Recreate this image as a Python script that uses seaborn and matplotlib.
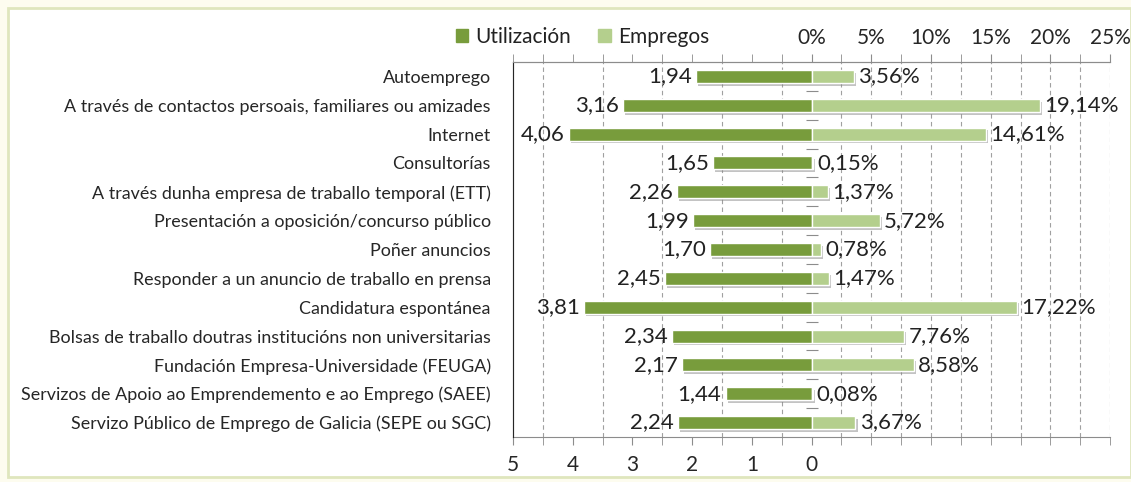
import numpy as np
import matplotlib
matplotlib.use("Agg")
import matplotlib.pyplot as plt
import matplotlib.patheffects as pe
from matplotlib.patches import Patch, Rectangle
import seaborn as sns

# --- Data ---
categorias = [
    "Autoemprego",
    "A través de contactos persoais, familiares ou amizades",
    "Internet",
    "Consultorías",
    "A través dunha empresa de traballo temporal (ETT)",
    "Presentación a oposición/concurso público",
    "Poñer anuncios",
    "Responder a un anuncio de traballo en prensa",
    "Candidatura espontánea",
    "Bolsas de traballo doutras institucións non universitarias",
    "Fundación Empresa-Universidade (FEUGA)",
    "Servizos de Apoio ao Emprendemento e ao Emprego (SAEE)",
    "Servizo Público de Emprego de Galicia (SEPE ou SGC)",
]
utilizacion = [1.94, 3.16, 4.06, 1.65, 2.26, 1.99, 1.70, 2.45, 3.81, 2.34, 2.17, 1.44, 2.24]
empregos = [3.56, 19.14, 14.61, 0.15, 1.37, 5.72, 0.78, 1.47, 17.22, 7.76, 8.58, 0.08, 3.67]

util_ticks = [5, 4, 3, 2, 1, 0]
emp_ticks = [0, 5, 10, 15, 20, 25]

dark = "#789c3c"
light = "#b4cf8d"
grey = "#8c8c8c"

sns.set_style("white")
plt.rcParams["font.family"] = ["Lato", "DejaVu Sans"]
plt.rcParams["text.color"] = "#222222"

fig = plt.figure(figsize=(11.31, 4.82), dpi=100)
fig.patch.set_facecolor("#fdfcef")
fig.patches.append(Rectangle((0.007, 0.01), 0.993, 0.973, transform=fig.transFigure,
                             facecolor="white", edgecolor="#dfe6bd", lw=2, zorder=-10))
pos = [0.4536, 0.0934, 0.528, 0.778]
ax = fig.add_axes(pos)
ax.patch.set_alpha(0)
ax2 = ax.twiny()

shadow = [pe.SimplePatchShadow(offset=(1.5, -2), shadow_rgbFace="#888888", alpha=0.5), pe.Normal()]

# Utilización on the bottom scale (inverted, grows to the left)
sns.barplot(x=utilizacion, y=categorias, orient="h", color=dark, width=0.45,
            saturation=1, ax=ax, zorder=3)
# Empregos on the top scale (percent, grows to the right)
sns.barplot(x=empregos, y=categorias, orient="h", color=light, width=0.45,
            saturation=1, ax=ax2, zorder=3)

for a in (ax, ax2):
    for bar in a.containers[0]:
        bar.set_path_effects(shadow)

ax.set_xlim(5, -5)
ax2.set_xlim(-25, 25)
ax.set_ylim(len(categorias) - 0.5, -0.5)

# value labels with decimal comma
ax.bar_label(ax.containers[0], labels=[f"{v:.2f}".replace(".", ",") for v in utilizacion],
             padding=3, fontsize=16)
ax2.bar_label(ax2.containers[0], labels=[f"{v:.2f}%".replace(".", ",") for v in empregos],
              padding=3, fontsize=16)

# bottom axis
ax.set_xticks(util_ticks)
ax.set_xticklabels([str(t) for t in util_ticks], fontsize=15)
ax.set_xticks(np.arange(-5, 5.01, 0.5), minor=True)
ax.tick_params(axis="x", which="both", direction="out", length=6, color=grey, bottom=True)
ax.tick_params(axis="x", which="major", pad=7)
ax.grid(axis="x", which="minor", color="#a0a0a0", linestyle=(0, (4, 3)), lw=0.8)
ax.set_axisbelow(True)

# top axis
ax2.set_xticks(emp_ticks)
ax2.set_xticklabels([f"{t}%" for t in emp_ticks], fontsize=15)
ax2.set_xticks(np.arange(-25, 25.01, 2.5), minor=True)
ax2.tick_params(axis="x", which="both", direction="out", length=6, color=grey, top=True)
ax2.tick_params(axis="x", which="major", pad=4)

# category labels
ax.set_yticks(range(len(categorias)))
ax.set_yticklabels(categorias, fontsize=12.9)
ax.tick_params(axis="y", length=0, pad=16)
ax.set_ylabel("")
ax.set_xlabel("")
ax2.set_xlabel("")
ax2.set_ylabel("")

# zero line with cross ticks between categories (separate overlay axes)
ax3 = fig.add_axes(pos, frameon=False)
ax3.set_xlim(-1, 1)
ax3.set_ylim(len(categorias) - 0.5, -0.5)
ax3.patch.set_alpha(0)
ax3.spines["left"].set_visible(True)
ax3.spines["left"].set_position(("data", 0))
ax3.spines["left"].set_color(grey)
ax3.set_xticks([])
ax3.set_yticks(np.arange(0.5, len(categorias) - 1, 1))
ax3.tick_params(axis="y", direction="inout", length=8, color=grey, left=True, labelleft=False)
ax3.set_zorder(5)

for s in ["right"]:
    ax.spines[s].set_visible(False)
    ax2.spines[s].set_visible(False)
for s in ["left", "bottom", "top"]:
    ax.spines[s].set_color(grey)
ax2.spines["top"].set_color(grey)
ax2.spines["bottom"].set_visible(False)

handles = [Patch(color=dark, label="Utilización"), Patch(color=light, label="Empregos")]
fig.legend(handles=handles, loc="center", bbox_to_anchor=(0.515, 0.923), ncol=2,
           frameon=False, fontsize=15, handlelength=0.6, handleheight=0.6,
           handletextpad=0.35, columnspacing=1.3)

fig.savefig("out.png", dpi=100, facecolor=fig.get_facecolor())
